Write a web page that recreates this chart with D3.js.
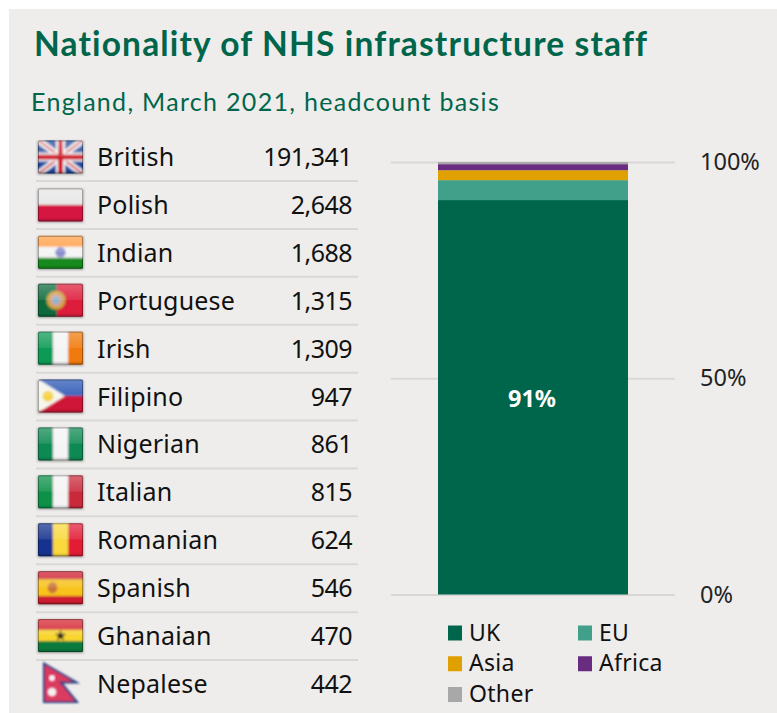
<!DOCTYPE html>
<html>
<head>
<meta charset="utf-8">
<script src="https://cdn.jsdelivr.net/npm/d3@7"></script>
<style>
html,body{margin:0;padding:0;background:#fff}
svg{display:block}
text{font-family:"Noto Sans",sans-serif}
</style>
</head>
<body>
<svg id="chart" width="777" height="713"></svg>
<script>
// Table rows
const nationalities = ["British","Polish","Indian","Portuguese","Irish","Filipino","Nigerian","Italian","Romanian","Spanish","Ghanaian","Nepalese"];
const headcounts = [191341,2648,1688,1315,1309,947,861,815,624,546,470,442];

// Stacked column
const regions = ["UK","EU","Asia","Africa","Other"];
const regionShares = [91.2,4.6,2.3,1.4,0.5];
const regionColours = ["#00664B","#40A08A","#E0A000","#6A2C80","#A8A8A8"];
const axisTicks = [0,50,100];

const GREEN = "#00664B", PANEL = "#EEEDEC", RULE = "#D9D8D6";
const svg = d3.select("#chart");
const defs = svg.append("defs");

svg.append("rect").attr("x",9).attr("y",9).attr("width",768).attr("height",704).attr("fill",PANEL);

svg.append("text").attr("x",34).attr("y",56).attr("fill",GREEN)
  .attr("font-size",33.5).attr("font-weight",700).attr("letter-spacing",1.15).style("font-family","'Lato',sans-serif")
  .text("Nationality of NHS infrastructure staff");
svg.append("text").attr("x",31).attr("y",111).attr("fill",GREEN)
  .attr("font-size",25).style("font-family","'Lato',sans-serif").attr("letter-spacing",1.3)
  .text("England, March 2021, headcount basis");

/* ---------- flags ---------- */
const FW = 45, FH = 33;
const gloss = defs.append("linearGradient").attr("id","gloss").attr("x1",0).attr("y1",0).attr("x2",0).attr("y2",1);
[[0,"#fff",0.28],[0.48,"#fff",0.10],[0.5,"#fff",0],[0.88,"#000",0],[1,"#000",0.2]].forEach(s=>
  gloss.append("stop").attr("offset",s[0]).attr("stop-color",s[1]).attr("stop-opacity",s[2]));
defs.append("filter").attr("id","soft").attr("x","-10%").attr("y","-10%").attr("width","120%").attr("height","130%")
  .append("feGaussianBlur").attr("stdDeviation",0.8);
defs.append("filter").attr("id","shadow").attr("x","-15%").attr("y","-15%").attr("width","130%").attr("height","140%")
  .append("feGaussianBlur").attr("stdDeviation",1.1);
defs.append("clipPath").attr("id","flagClip").append("rect").attr("width",FW).attr("height",FH).attr("rx",1.5);

const hStripes = (g,cols,weights) => {
  const w = weights || cols.map(()=>1), t = d3.sum(w); let y = 0;
  cols.forEach((c,i)=>{ const h = FH*w[i]/t; g.append("rect").attr("x",-2).attr("y",y-(i?0:2)).attr("width",FW+4).attr("height",h+(i?2.2:2.2)).attr("fill",c); y += h; });
};
const vStripes = (g,cols) => cols.forEach((c,i)=>
  g.append("rect").attr("x",FW*i/cols.length-(i?0:2)).attr("y",-2).attr("width",FW/cols.length+2.2).attr("height",FH+4).attr("fill",c));

const painters = {
  British(g){
    g.append("rect").attr("x",-2).attr("y",-2).attr("width",FW+4).attr("height",FH+4).attr("fill","#1F4A9E");
    const diag = "M-2,-2L47,35M47,-2L-2,35";
    g.append("path").attr("d",diag).attr("stroke","#F2F2F2").attr("stroke-width",6.5);
    g.append("path").attr("d",diag).attr("stroke","#D8404A").attr("stroke-width",2);
    g.append("path").attr("d","M22.5,-2V35M-2,16.5H47").attr("stroke","#F2F2F2").attr("stroke-width",9);
    g.append("path").attr("d","M22.5,-2V35M-2,16.5H47").attr("stroke","#CF1F2E").attr("stroke-width",5);
  },
  Polish(g){ hStripes(g,["#E6E6E6","#D4193F"]); },
  Indian(g){
    hStripes(g,["#FF9F45","#F4F4F4","#138A1E"]);
    g.append("circle").attr("cx",22.5).attr("cy",16.5).attr("r",5.2).attr("fill","#8B8FD0");
  },
  Portuguese(g){
    g.append("rect").attr("x",-2).attr("y",-2).attr("width",FW+4).attr("height",FH+4).attr("fill","#DE1A3A");
    g.append("rect").attr("x",-2).attr("y",-2).attr("width",FW*0.42+2).attr("height",FH+4).attr("fill","#0A6B3C");
    g.append("circle").attr("cx",18).attr("cy",16.5).attr("r",9.5).attr("fill","#C9A23A");
    g.append("circle").attr("cx",18).attr("cy",16.5).attr("r",6.5).attr("fill","#E0A090");
    g.append("circle").attr("cx",18).attr("cy",16.5).attr("r",4).attr("fill","#8FB4CC");
  },
  Irish(g){ vStripes(g,["#0E9A55","#F4F4F4","#F07A0A"]); },
  Filipino(g){
    hStripes(g,["#2A56B4","#CF1437"]);
    g.append("path").attr("d","M-2,-1.5L27,16.5L-2,34.5Z").attr("fill","#F6F6EE");
    g.append("circle").attr("cx",10).attr("cy",16.5).attr("r",5.5).attr("fill","#F7D24A");
  },
  Nigerian(g){ vStripes(g,["#0A8A52","#F4F4F4","#0A8A52"]); },
  Italian(g){ vStripes(g,["#0E9148","#F4F4F4","#C92B3A"]); },
  Romanian(g){ vStripes(g,["#12328E","#F9D93D","#E21F35"]); },
  Spanish(g){
    hStripes(g,["#CF1F2E","#F8C31A","#CF1F2E"],[1,2,1]);
    g.append("ellipse").attr("cx",14.5).attr("cy",16.5).attr("rx",4.8).attr("ry",5.6).attr("fill","#C9753A");
  },
  Ghanaian(g){
    hStripes(g,["#D5202F","#F9D52E","#0A7A3E"]);
    g.append("path").attr("d",d3.symbol().type(d3.symbolStar).size(42)()).attr("transform","translate(22.5,16.5)").attr("fill","#222");
  }
};

const rowY = d3.scalePoint().domain(nationalities).range([157,684]);
const fmt = d3.format(",");

const rows = svg.append("g").selectAll("g").data(nationalities).join("g")
  .attr("transform",d=>`translate(0,${rowY(d)})`);

rows.filter((d,i)=>i<nationalities.length-1).append("line")
  .attr("x1",36).attr("x2",358).attr("y1",24).attr("y2",24)
  .attr("stroke",RULE).attr("stroke-width",2);

rows.each(function(d){
  const row = d3.select(this);
  if (d === "Nepalese") {
    const outer = "M44,663.5 L76.5,682.5 L61,682.5 L77,702 L44,702 Z";
    const f = row.append("g").attr("transform",`translate(0,${-rowY(d)})`);
    f.append("path").attr("d",outer).attr("fill","#DC3A60").attr("stroke","#24407F").attr("stroke-width",2).attr("stroke-linejoin","miter").attr("filter","url(#soft)");
    f.append("circle").attr("cx",52).attr("cy",678).attr("r",3.2).attr("fill","#F4F0F0").attr("filter","url(#soft)");
    f.append("circle").attr("cx",52).attr("cy",692).attr("r",4.6).attr("fill","#F4F0F0").attr("filter","url(#soft)");
    return;
  }
  const top = -(d==="British"||d==="Polish"?16.5:17);
  const f = row.append("g").attr("transform",`translate(38,${top})`);
  f.append("rect").attr("x",-0.5).attr("y",0.5).attr("width",FW+1).attr("height",FH+0.5).attr("fill","#555").attr("opacity",0.55).attr("filter","url(#shadow)");
  const art = f.append("g").attr("clip-path","url(#flagClip)").append("g").attr("filter","url(#soft)");
  painters[d](art);
  f.append("rect").attr("width",FW).attr("height",FH).attr("rx",1.5).attr("fill","url(#gloss)").attr("clip-path","url(#flagClip)");
  f.append("rect").attr("x",0.5).attr("y",0.5).attr("width",FW-1).attr("height",FH-1).attr("rx",1.5)
    .attr("fill","none").attr("stroke","#000").attr("stroke-opacity",0.32);
});

rows.append("text").attr("x",97).attr("y",9).attr("font-size",25).attr("letter-spacing",0.2).attr("fill","#111").text(d=>d);
rows.append("text").attr("x",352).attr("y",9).attr("font-size",25).attr("letter-spacing",-0.55).attr("fill","#111").attr("text-anchor","end")
  .text((d,i)=>fmt(headcounts[i]));

/* ---------- stacked column ---------- */
const y = d3.scaleLinear().domain([0,100]).range([594.5,162]);

const axis = d3.axisRight(y).tickValues(axisTicks).tickSize(284).tickPadding(25).tickFormat(d=>d+"%");
const axisG = svg.append("g").attr("transform","translate(391,0)").call(axis);
axisG.select(".domain").remove();
axisG.selectAll(".tick line").attr("stroke",RULE).attr("stroke-width",2);
axisG.selectAll(".tick text").attr("font-size",23.5).attr("fill","#222").attr("dy","0.32em")
  .style("font-family","'Noto Sans',sans-serif");

const stackRow = Object.fromEntries(regions.map((r,i)=>[r,regionShares[i]]));
const series = d3.stack().keys(regions)([stackRow]);
svg.append("g").selectAll("rect").data(series).join("rect")
  .attr("x",438).attr("width",190)
  .attr("y",d=>y(d[0][1])).attr("height",d=>y(d[0][0])-y(d[0][1]))
  .attr("fill",(d,i)=>regionColours[i]);

svg.append("text").attr("x",532).attr("y",407).attr("text-anchor","middle").attr("fill","#fff")
  .attr("font-size",23.5).attr("font-weight",700).text(Math.round(regionShares[0])+"%");

/* ---------- legend ---------- */
const legendX = d3.scalePoint().domain([0,1]).range([448,578]);
const legendY = d3.scalePoint().domain([0,1,2]).range([633,694.5]);
const legend = svg.append("g").selectAll("g").data(regions).join("g")
  .attr("transform",(d,i)=>`translate(${legendX(i%2===0||i===4?0:1)},${legendY(Math.floor(i/2))})`);
legend.append("rect").attr("y",-7.5).attr("width",14).attr("height",15).attr("fill",(d,i)=>regionColours[i]);
legend.append("text").attr("x",21).attr("y",7.5).attr("font-size",23).attr("letter-spacing",0.3).attr("fill","#111").text(d=>d);
</script>
</body>
</html>
